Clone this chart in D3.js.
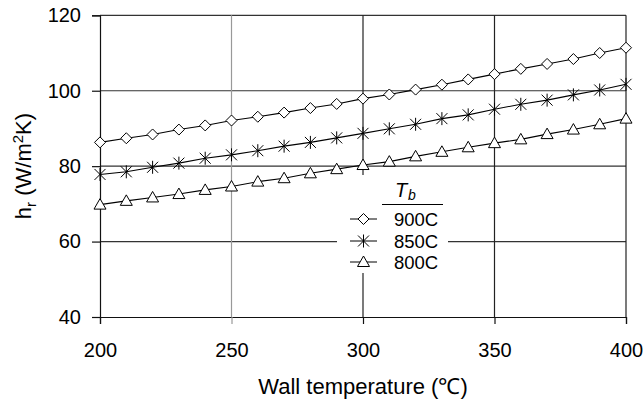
<!DOCTYPE html>
<html><head><meta charset="utf-8">
<script src="https://cdn.jsdelivr.net/npm/d3@7"></script>
<style>body{margin:0;background:#fff}svg{font-family:"Liberation Sans",Arial,sans-serif}</style>
</head><body>
<svg id="c" width="644" height="403"></svg>
<script>
const wallTemps = d3.range(200, 401, 10);
const series900 = [86.3,87.4,88.4,89.7,90.8,92.1,93.1,94.2,95.4,96.5,97.9,99.0,100.3,101.6,103.0,104.4,105.8,107.1,108.4,110.0,111.4];
const series850 = [77.8,78.5,79.7,80.8,82.1,83.0,84.1,85.3,86.3,87.5,88.7,89.9,91.1,92.6,93.6,95.1,96.4,97.5,98.9,100.2,101.7];
const series800 = [69.8,70.8,71.7,72.6,73.7,74.6,75.9,76.8,78.1,79.2,80.3,81.2,82.6,83.8,85.0,86.1,87.1,88.5,89.7,91.1,92.6];
const seriesNames = ["900C","850C","800C"];
const xTicks = [200,250,300,350,400];
const yTicks = [40,60,80,100,120];

const svg = d3.select("#c");
const x = d3.scaleLinear().domain([200,400]).range([100,626]);
const y = d3.scaleLinear().domain([40,120]).range([317,15.3]);

// gridlines
const g = svg.append("g");
yTicks.filter(v=>v>40).forEach(v=>{
  g.append("line").attr("x1",x(200)).attr("x2",x(400)).attr("y1",y(v)).attr("y2",y(v))
   .attr("stroke","#333").attr("stroke-width",1.2);
});
xTicks.filter(v=>v>200).forEach(v=>{
  g.append("line").attr("x1",x(v)).attr("x2",x(v)).attr("y1",y(120)).attr("y2",y(40))
   .attr("stroke", v===250 ? "#999" : "#222").attr("stroke-width",1.2);
});

// axes
const xAxis = svg.append("g").attr("transform",`translate(0,${y(40)})`)
  .call(d3.axisBottom(x).tickValues(xTicks).tickSize(7).tickPadding(19).tickFormat(d3.format("d")));
const yAxis = svg.append("g").attr("transform",`translate(${x(200)},0)`)
  .call(d3.axisLeft(y).tickValues(yTicks).tickSize(8).tickPadding(11).tickFormat(d3.format("d")));
[xAxis,yAxis].forEach(a=>{
  a.select(".domain").attr("stroke","#111").attr("stroke-width",1.2);
  a.selectAll(".tick line").attr("stroke","#111").attr("stroke-width",1.2);
  a.selectAll("text").attr("font-size",20).attr("fill","#000").attr("font-family","Liberation Sans, Arial, sans-serif");
});
xAxis.selectAll(".tick").filter(d=>d===250).select("line").attr("stroke","#999");

// legend background (covers grid)
const lg = svg.append("g");
lg.append("rect").attr("x",337).attr("y",175).attr("width",111).attr("height",98).attr("fill","#fff");

// series
const all = [series900, series850, series800];
const line = d3.line().x((d,i)=>x(wallTemps[i])).y(d=>y(d));
const plot = svg.append("g");
all.forEach(s=>{
  plot.append("path").datum(s).attr("d",line).attr("fill","none").attr("stroke","#000").attr("stroke-width",1.1);
});
function diamond(sel,cx,cy){
  sel.append("path").attr("d",`M${cx},${cy-5.5}L${cx+5.5},${cy}L${cx},${cy+5.5}L${cx-5.5},${cy}Z`)
    .attr("fill","#fff").attr("stroke","#000").attr("stroke-width",1);
}
function star(sel,cx,cy){
  const r=5.5;
  sel.append("path").attr("d",`M${cx-r},${cy-r}L${cx+r},${cy+r}M${cx-r},${cy+r}L${cx+r},${cy-r}M${cx},${cy-r-1}L${cx},${cy+r+1}`)
    .attr("fill","none").attr("stroke","#000").attr("stroke-width",1);
}
function tri(sel,cx,cy){
  sel.append("path").attr("d",`M${cx},${cy-6}L${cx+6},${cy+4.5}L${cx-6},${cy+4.5}Z`)
    .attr("fill","#fff").attr("stroke","#000").attr("stroke-width",1);
}
const markers=[diamond,star,tri];
all.forEach((s,k)=>{
  s.forEach((v,i)=>markers[k](plot,x(wallTemps[i]),y(v)));
});

// legend
lg.raise();
lg.append("text").attr("x",395).attr("y",197).attr("font-size",20).attr("font-style","italic").text("T");
lg.append("text").attr("x",408).attr("y",200).attr("font-size",14).attr("font-style","italic").text("b");
lg.append("line").attr("x1",382).attr("x2",443).attr("y1",204.5).attr("y2",204.5).attr("stroke","#000").attr("stroke-width",1);
const ly=[219,241,262];
seriesNames.forEach((n,k)=>{
  lg.append("line").attr("x1",350).attr("x2",377).attr("y1",ly[k]).attr("y2",ly[k]).attr("stroke","#000").attr("stroke-width",1);
  markers[k](lg,363.5,ly[k]);
  lg.append("text").attr("x",394).attr("y",ly[k]+6.5).attr("font-size",18.5).text(n);
});

// axis titles
svg.append("text").attr("x",363).attr("y",394).attr("text-anchor","middle").attr("font-size",22).text("Wall temperature (\u2103)");
const yt = svg.append("text").attr("transform","translate(31,166) rotate(-90)").attr("text-anchor","middle").attr("font-size",22);
yt.append("tspan").text("h");
yt.append("tspan").attr("font-size",15).attr("dy",5).text("r");
yt.append("tspan").attr("dy",-5).text(" (W/m");
yt.append("tspan").attr("font-size",15).attr("dy",-8).text("2");
yt.append("tspan").attr("dy",8).text("K)");
</script>
</body></html>
